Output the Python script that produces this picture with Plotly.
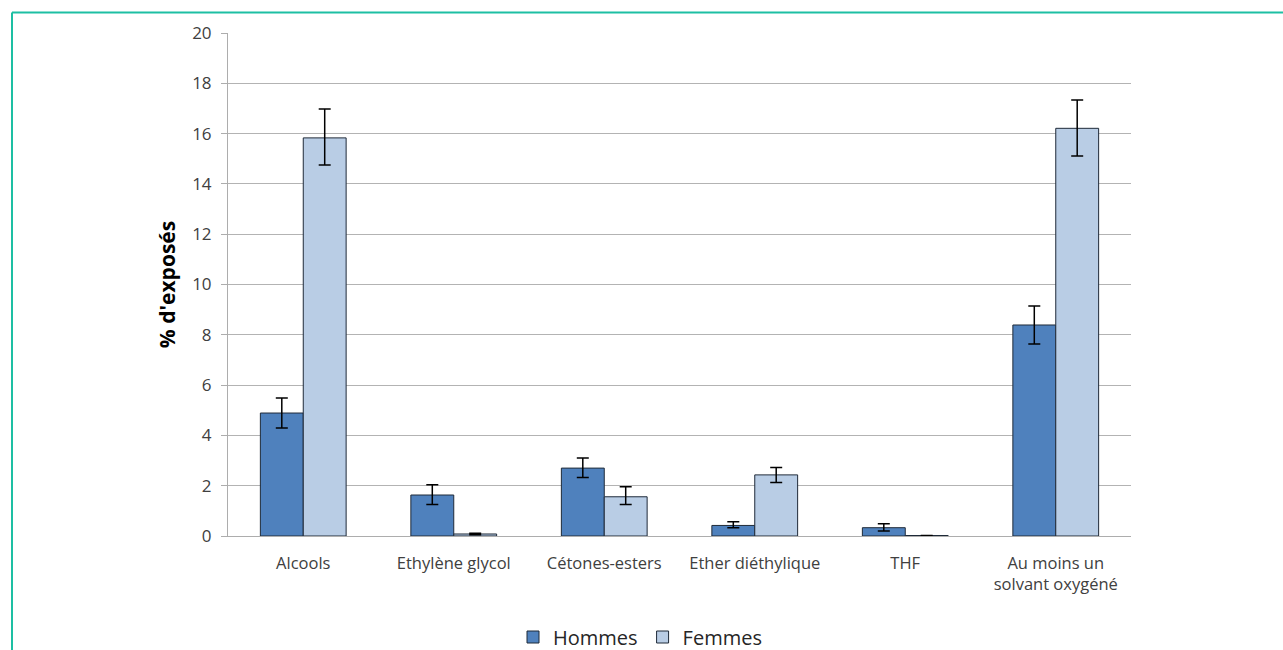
import plotly.graph_objects as go

categories = ["Alcools", "Ethylène glycol", "Cétones-esters", "Ether diéthylique",
              "THF", "Au moins un<br>solvant oxygéné"]

hommes = [4.89, 1.63, 2.70, 0.42, 0.33, 8.39]
hommes_hi = [5.49, 2.04, 3.10, 0.57, 0.49, 9.15]
hommes_lo = [4.29, 1.25, 2.33, 0.33, 0.20, 7.63]

femmes = [15.83, 0.08, 1.56, 2.43, 0.02, 16.21]
femmes_hi = [16.98, 0.11, 1.96, 2.72, 0.02, 17.34]
femmes_lo = [14.75, 0.05, 1.25, 2.13, 0.02, 15.11]

y_ticks = list(range(0, 21, 2))

FONT = "'Open Sans', Calibri, Carlito, sans-serif"
W, H = 1283, 650
L, R, T, B = 228, 152, 33, 114
PW, PH = W - L - R, H - T - B


def err(vals, hi, lo, color="#000000"):
    return dict(type="data", symmetric=False,
                array=[h - v for h, v in zip(hi, vals)],
                arrayminus=[v - l for v, l in zip(vals, lo)],
                color=color, thickness=1.5, width=6)


fig = go.Figure()
fig.add_trace(go.Bar(
    name="Hommes", x=categories, y=hommes,
    marker=dict(color="#4F81BD", line=dict(color="#1F2A38", width=1)),
    error_y=err(hommes, hommes_hi, hommes_lo),
))
fig.add_trace(go.Bar(
    name="Femmes", x=categories, y=femmes,
    marker=dict(color="#B9CDE5", line=dict(color="#1F2A38", width=1)),
    error_y=err(femmes, femmes_hi, femmes_lo),
))

# teal frame around the figure (left and top edges visible)
px = lambda p: (p - L) / PW
py = lambda p: (H - B - p) / PH
teal = "#1DBFA3"
fig.add_shape(type="line", xref="paper", yref="paper",
              x0=px(12), x1=px(1290), y0=py(12.5), y1=py(12.5),
              line=dict(color=teal, width=2))
fig.add_shape(type="line", xref="paper", yref="paper",
              x0=px(12), x1=px(12), y0=py(12.5), y1=py(660),
              line=dict(color=teal, width=2))

fig.update_layout(
    width=W, height=H,
    margin=dict(l=L, r=R, t=T, b=B, autoexpand=False),
    paper_bgcolor="white", plot_bgcolor="white",
    barmode="group", bargap=0.43, bargroupgap=0,
    font=dict(family=FONT, size=16, color="#404040"),
    showlegend=True,
    legend=dict(orientation="h", x=px(640), xanchor="center",
                y=py(637), yanchor="middle",
                font=dict(size=20, color="#262626"),
                traceorder="normal", itemwidth=30, tracegroupgap=0),
    xaxis=dict(showline=True, linecolor="#ADADAD", linewidth=1,
               ticks="", ticklabelstandoff=12,
               tickfont=dict(size=16.5, color="#404040")),
    yaxis=dict(range=[0, 20], tickvals=y_ticks, showgrid=True,
               gridcolor="#B3B3B3", gridwidth=1,
               showline=True, linecolor="#ADADAD", linewidth=1,
               ticks="outside", ticklen=6, tickcolor="#ADADAD",
               ticklabelstandoff=6,
               tickfont=dict(size=17, color="#404040"), zeroline=False,
               title=dict(text="<b>% d'exposés</b>",
                          font=dict(size=21, color="#000000"), standoff=10)),
)

fig.write_html("out.html")
